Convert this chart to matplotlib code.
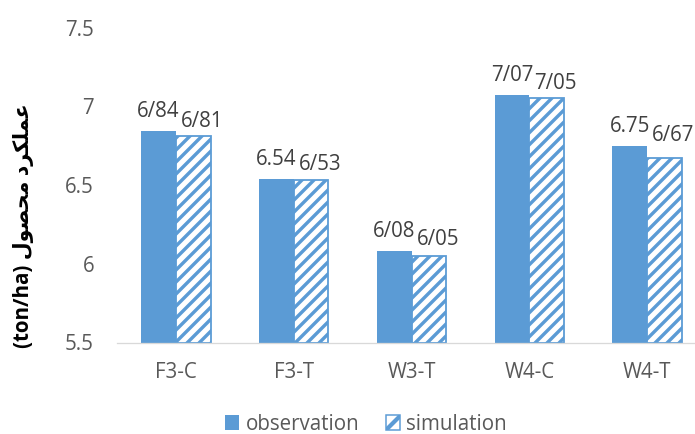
import numpy as np
import matplotlib
matplotlib.use("Agg")
import matplotlib.pyplot as plt
from matplotlib.patches import Patch
from matplotlib.transforms import IdentityTransform

# yields per treatment
categories = ["F3-C", "F3-T", "W3-T", "W4-C", "W4-T"]
observation = [6.84, 6.54, 6.08, 7.07, 6.75]
simulation = [6.81, 6.53, 6.05, 7.05, 6.67]
# decimal separator used in each printed label
obs_sep = ["/", ".", "/", "/", "."]
sim_sep = ["/", "/", "/", "/", "/"]

blue = "#5B9BD5"
fs = 20.5
plt.rcParams["font.family"] = ["Open Sans", "DejaVu Sans"]
plt.rcParams["hatch.linewidth"] = 4.2

fig = plt.figure(figsize=(695 / 72, 434 / 72), dpi=72)
ax = fig.add_axes([117 / 695, 91.5 / 434, 589 / 695, 315 / 434])

x = np.arange(len(categories))
w = 0.295
b1 = ax.bar(x - w / 2, np.array(observation) - 5.5, w, bottom=5.5, color=blue)
b2 = ax.bar(x + w / 2, np.array(simulation) - 5.5, w, bottom=5.5,
            facecolor="white", edgecolor=blue, linewidth=1.8)

ax.set_xlim(-0.5, len(categories) - 0.5)
ax.set_ylim(5.5, 7.5)

# diagonal stripes inside the simulation bars (pixel-spaced, clipped to each bar)
period = 12.0
for bar in b2:
    (x0, y0), (x1, y1) = ax.transData.transform(
        [[bar.get_x(), bar.get_y()],
         [bar.get_x() + bar.get_width(), bar.get_y() + bar.get_height()]])
    k0 = np.floor((y0 - x1) / period) - 1
    k1 = np.ceil((y1 - x0) / period) + 1
    for k in np.arange(k0, k1 + 1):
        c = k * period
        # segment of y = x + c that lies within the bar
        xa = max(x0, y0 - c) - 3
        xb = min(x1, y1 - c) + 3
        if xb <= xa:
            continue
        ln, = ax.plot([xa, xb], [xa + c, xb + c], color=blue, lw=3.4,
                      transform=IdentityTransform(), solid_capstyle="butt")
        ln.set_clip_path(bar)


def fmt(v, sep):
    return f"{v:.2f}".replace(".", sep)


# value labels: simulation labels sit a little to the right to avoid overlap
sim_rise = [9, 10, 11, 9, 17]
for i in range(len(categories)):
    ax.annotate(fmt(observation[i], obs_sep[i]), (x[i] - w / 2, observation[i]),
                xytext=(0, 14), textcoords="offset points", ha="center",
                va="baseline", fontsize=fs, color="#404040")
    ax.annotate(fmt(simulation[i], sim_sep[i]), (x[i] + w / 2, simulation[i]),
                xytext=(9, sim_rise[i]), textcoords="offset points", ha="center",
                va="baseline", fontsize=fs, color="#404040")

ax.set_yticks([5.5, 6, 6.5, 7, 7.5])
ax.set_yticklabels(["5.5", "6", "6.5", "7", "7.5"])
ax.set_xticks(x)
ax.set_xticklabels(categories)
ax.tick_params(axis="both", length=0, labelsize=fs, labelcolor="#595959")
ax.tick_params(axis="y", pad=23)
ax.tick_params(axis="x", pad=19)
for side in ["top", "right", "left"]:
    ax.spines[side].set_visible(False)
ax.spines["bottom"].set_color("#D9D9D9")
ax.spines["bottom"].set_linewidth(1.3)

# Persian axis title written in presentation forms, visual order
fa_words = "\uFEDD\uFEEE\uFEBC\uFEA4\uFEE3" + " " + "\uFEA9\uFEAE\uFB91\uFEE0\uFEE4\uFECB"
fig.text(24 / 695, 1 - 226 / 434, "(ton/ha) " + fa_words, rotation=90,
         ha="center", va="center", fontsize=fs, fontweight="bold",
         color="black", family=["Open Sans", "DejaVu Sans"])

handles = [Patch(facecolor=blue, edgecolor=blue, linewidth=0),
           Patch(facecolor="white", edgecolor=blue, hatch="/", linewidth=1.5)]
fig.legend(handles, ["observation", "simulation"], loc="center",
           bbox_to_anchor=(366 / 695, 10 / 434), ncol=2, frameon=False,
           fontsize=fs, labelcolor="#595959", handlelength=0.7,
           handleheight=0.7, handletextpad=0.3, columnspacing=1.3)

fig.savefig("out.png", dpi=72)
